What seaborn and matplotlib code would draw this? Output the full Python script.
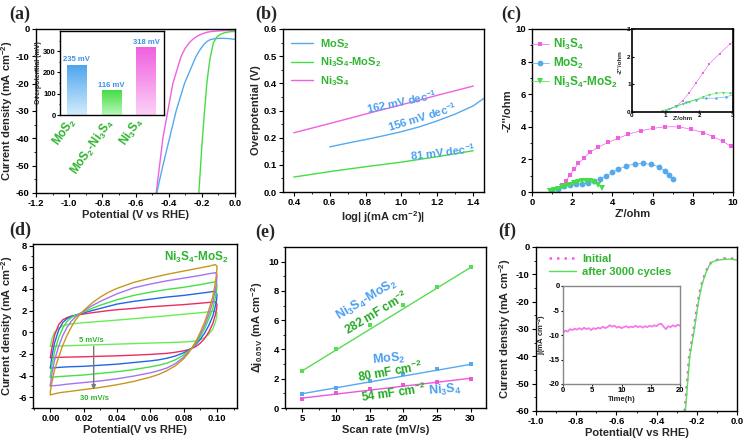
import numpy as np
import matplotlib
matplotlib.use('Agg')
import matplotlib.pyplot as plt
import seaborn as sns
from matplotlib.ticker import MultipleLocator, FormatStrFormatter
from matplotlib.colors import LinearSegmentedColormap

# ---------------- data ----------------
# (a) LSV curves
lsv_ni3s4_x = [-0.475, -0.455, -0.435, -0.405, -0.375, -0.35, -0.325, -0.3, -0.275, -0.255, -0.23, -0.2, -0.17, -0.14, -0.1, -0.05, 0.0]
lsv_ni3s4_y = [-60, -50, -40, -30, -20, -15, -10, -7, -5, -3.8, -2.7, -1.8, -1.2, -0.9, -0.7, -0.55, -0.5]
lsv_mos2_x = [-0.472, -0.435, -0.395, -0.355, -0.305, -0.27, -0.235, -0.21, -0.19, -0.17, -0.15, -0.12, -0.08, -0.04, 0.0]
lsv_mos2_y = [-60, -50, -40, -30, -20, -15, -10, -7.5, -5.8, -4.6, -3.9, -3.5, -3.4, -3.5, -3.8]
lsv_hybrid_x = [-0.218, -0.2, -0.185, -0.17, -0.158, -0.148, -0.13, -0.11, -0.09, -0.07, -0.05, -0.03, 0.0]
lsv_hybrid_y = [-60, -43, -31, -20, -14, -10, -5, -3, -2, -1.5, -1.2, -1.0, -0.9]

bar_names = ['MoS2', 'MoS2-Ni3S4', 'Ni3S4']
bar_values = [235, 116, 318]
bar_text = ['235 mV', '116 mV', '318 mV']

# (b) Tafel
tafel_ni3s4_x = [0.4, 0.6, 0.8, 1.0, 1.2, 1.4]
tafel_ni3s4_y = [0.218, 0.252, 0.287, 0.321, 0.356, 0.39]
tafel_mos2_x = [0.6, 0.7, 0.8, 0.9, 1.0, 1.1, 1.2, 1.3, 1.4, 1.46]
tafel_mos2_y = [0.166, 0.18, 0.193, 0.207, 0.222, 0.24, 0.262, 0.287, 0.317, 0.345]
tafel_hybrid_x = [0.4, 0.6, 0.8, 1.0, 1.2, 1.4]
tafel_hybrid_y = [0.055, 0.075, 0.093, 0.11, 0.13, 0.152]

# (c) Nyquist
eis_ni3s4_x = [1.0, 1.3, 1.5, 1.7, 1.9, 2.1, 2.3, 2.6, 2.9, 3.3, 3.8, 4.3, 4.8, 5.4, 6.0, 6.6, 7.3, 7.9, 8.5, 9.0, 9.5, 9.9]
eis_ni3s4_y = [0.05, 0.2, 0.4, 0.7, 1.05, 1.4, 1.75, 2.1, 2.45, 2.75, 3.05, 3.3, 3.55, 3.75, 3.9, 4.0, 4.0, 3.85, 3.65, 3.4, 3.1, 2.8]
eis_mos2_x = [1.0, 1.3, 1.6, 1.9, 2.2, 2.5, 2.8, 3.1, 3.4, 3.7, 4.0, 4.3, 4.7, 5.1, 5.5, 5.9, 6.3, 6.6, 6.8, 7.0]
eis_mos2_y = [0.05, 0.2, 0.35, 0.45, 0.5, 0.5, 0.55, 0.65, 0.8, 1.0, 1.2, 1.4, 1.6, 1.72, 1.75, 1.7, 1.55, 1.3, 1.05, 0.8]
eis_hybrid_x = [0.9, 1.1, 1.3, 1.5, 1.7, 1.9, 2.1, 2.3, 2.5, 2.7, 2.9, 3.1, 3.3, 3.5]
eis_hybrid_y = [0.05, 0.12, 0.2, 0.28, 0.35, 0.45, 0.55, 0.62, 0.68, 0.7, 0.68, 0.6, 0.45, 0.25]

# (d) CV loops: forward sweep then reverse sweep
cv_x_up = [0.0, 0.001, 0.0025, 0.005, 0.0075, 0.01, 0.0125, 0.015, 0.0175, 0.02, 0.025,
           0.03, 0.035, 0.04, 0.05, 0.06, 0.07, 0.08, 0.09, 0.095, 0.099]
cv_x_down = [0.1, 0.0998, 0.099, 0.0975, 0.095, 0.0925, 0.09, 0.0875, 0.085, 0.0825, 0.08,
             0.075, 0.07, 0.065, 0.06, 0.05, 0.04, 0.03, 0.02, 0.01, 0.005, 0.001, 0.0]
cv_5_up = [-1.3, -0.6, 0.0, 0.4, 0.6, 0.7, 0.76, 0.8, 0.84, 0.88, 0.94, 1.0, 1.06, 1.12,
           1.25, 1.38, 1.52, 1.66, 1.8, 1.88, 1.95]
cv_5_down = [1.8, 1.4, 0.9, 0.3, -0.2, -0.5, -0.7, -0.8, -0.85, -0.88, -0.9, -0.93, -0.96,
             -0.98, -1.0, -1.05, -1.1, -1.15, -1.2, -1.25, -1.27, -1.3, -1.3]
cv_10_up = [-2.35, -1.4, -0.3, 0.7, 1.15, 1.35, 1.48, 1.55, 1.62, 1.68, 1.8, 1.9, 2.0, 2.08,
            2.2, 2.35, 2.45, 2.55, 2.68, 2.75, 2.82]
cv_10_down = [2.6, 2.2, 1.6, 0.8, 0.0, -0.6, -1.0, -1.3, -1.5, -1.62, -1.72, -1.85, -1.95,
              -2.0, -2.05, -2.12, -2.18, -2.22, -2.27, -2.3, -2.32, -2.35, -2.35]
cv_15_up = [-3.3, -2.2, -1.0, 0.2, 0.9, 1.25, 1.45, 1.58, 1.68, 1.78, 2.0, 2.2, 2.4, 2.6,
            2.85, 3.05, 3.25, 3.4, 3.6, 3.7, 3.8]
cv_15_down = [3.5, 3.0, 2.4, 1.5, 0.6, -0.1, -0.65, -1.1, -1.45, -1.7, -1.9, -2.2, -2.4,
              -2.55, -2.65, -2.8, -2.95, -3.05, -3.15, -3.2, -3.25, -3.3, -3.3]
cv_20_up = [-4.1, -3.0, -1.8, -0.5, 0.4, 1.0, 1.35, 1.55, 1.72, 1.88, 2.2, 2.5, 2.75, 3.0,
            3.4, 3.7, 3.95, 4.15, 4.4, 4.55, 4.65]
cv_20_down = [4.4, 3.9, 3.2, 2.2, 1.2, 0.3, -0.4, -1.0, -1.45, -1.8, -2.1, -2.55, -2.85,
              -3.05, -3.2, -3.45, -3.65, -3.8, -3.95, -4.05, -4.1, -4.15, -4.2]
cv_25_up = [-4.9, -3.8, -2.6, -1.3, -0.3, 0.45, 1.0, 1.4, 1.7, 1.95, 2.45, 2.85, 3.2, 3.55,
            4.1, 4.45, 4.75, 5.0, 5.25, 5.4, 5.5]
cv_25_down = [5.3, 4.7, 3.9, 2.8, 1.6, 0.6, -0.2, -0.9, -1.45, -1.9, -2.3, -2.9, -3.3,
              -3.55, -3.75, -4.05, -4.3, -4.5, -4.65, -4.8, -4.9, -4.95, -5.0]
cv_30_up = [-5.5, -4.6, -3.5, -2.3, -1.2, -0.3, 0.45, 1.1, 1.6, 2.0, 2.7, 3.25, 3.7, 4.05,
            4.6, 5.0, 5.35, 5.65, 5.95, 6.1, 6.25]
cv_30_down = [6.1, 5.5, 4.6, 3.3, 2.0, 0.9, 0.0, -0.8, -1.45, -2.0, -2.45, -3.1, -3.55,
              -3.9, -4.15, -4.55, -4.85, -5.1, -5.3, -5.5, -5.6, -5.75, -5.8]

# (e) double-layer capacitance
scan_rate = [5, 10, 15, 20, 25, 30]
dj_hybrid = [2.5, 4.05, 5.7, 7.05, 8.3, 9.65]
dj_mos2 = [0.95, 1.4, 1.85, 2.3, 2.65, 3.0]
dj_ni3s4 = [0.6, 1.0, 1.3, 1.55, 1.8, 2.0]
fit_x = [5, 30]
fit_hybrid = [2.55, 9.6]
fit_mos2 = [0.98, 2.98]
fit_ni3s4 = [0.68, 2.03]

# (f) stability
init_x = [-0.26, -0.238, -0.215, -0.195, -0.178, -0.16, -0.143, -0.127, -0.108, -0.088, -0.065, -0.04, -0.02, 0.0]
init_y = [-60, -40, -30, -20, -14, -10, -7, -5.5, -4.9, -4.5, -4.2, -4.1, -4.3, -4.7]
cyc_x = [-0.257, -0.235, -0.212, -0.192, -0.175, -0.158, -0.14, -0.124, -0.105, -0.085, -0.06, -0.035, 0.0]
cyc_y = [-60, -40, -30, -20, -14, -10, -7, -5.5, -5.0, -4.7, -4.5, -4.4, -4.8]
time_h = [0.0, 0.4, 0.8, 1.2, 1.6, 2.0, 2.4, 2.8, 3.2, 3.6, 4.0, 4.4, 4.8, 5.2, 5.6, 6.0, 6.4,
          6.8, 7.2, 7.6, 8.0, 8.4, 8.8, 9.2, 9.6, 10.0, 10.4, 10.8, 11.2, 11.6, 12.0, 12.4, 12.8,
          13.2, 13.6, 14.0, 14.4, 14.8, 15.2, 15.6, 16.0, 16.4, 16.8, 17.2, 17.6, 18.0, 18.4,
          18.8, 19.2, 19.6, 20.0]
j_time = [-9.6, -9.1, -9.3, -8.8, -9.0, -8.7, -8.9, -8.6, -8.9, -8.5, -8.8, -8.6, -9.0, -8.6,
          -8.8, -8.5, -8.7, -8.3, -8.6, -8.4, -8.0, -8.3, -8.1, -8.5, -8.3, -8.6, -8.4, -8.2,
          -8.5, -8.3, -8.4, -8.1, -8.4, -8.2, -8.5, -8.2, -8.4, -8.1, -8.3, -8.0, -8.2, -7.8,
          -7.7, -8.3, -8.8, -8.2, -8.4, -8.0, -8.3, -7.9, -8.1]

# ---------------- style ----------------
sns.set_style('ticks')
plt.rcParams.update({
    'font.family': ['Liberation Sans', 'DejaVu Sans'],
    'font.weight': 'bold',
    'axes.labelweight': 'bold',
    'axes.unicode_minus': False,
    'mathtext.fontset': 'custom',
    'mathtext.rm': 'Liberation Sans:bold',
    'mathtext.it': 'Liberation Sans:italic:bold',
    'mathtext.bf': 'Liberation Sans:bold',
    'mathtext.default': 'rm',
    'xtick.direction': 'out', 'ytick.direction': 'out',
    'xtick.labelsize': 6.8, 'ytick.labelsize': 6.8,
    'axes.labelsize': 8, 'axes.linewidth': 1.0,
    'axes.edgecolor': 'black',
    'xtick.major.size': 3, 'ytick.major.size': 3,
    'xtick.minor.size': 1.5, 'ytick.minor.size': 1.5,
    'xtick.major.pad': 1.5, 'ytick.major.pad': 1.5,
    'xtick.color': 'black', 'ytick.color': 'black',
})

PINK = '#f060e0'
BLUE = '#55aaee'
GREEN = '#44dd44'
TGREEN = '#2fb52f'
TBLUE = '#4a9ff0'

W, H = 745, 441
fig = plt.figure(figsize=(W / 100, H / 100), dpi=100)


def box(l, t, r, b):
    return [l / W, 1 - b / H, (r - l) / W, (b - t) / H]


def panel_label(x, y, s):
    fig.text(x / W, 1 - y / H, s, fontsize=13, fontweight='bold',
             family='Liberation Serif', ha='center', va='center')


def line(ax, x, y, **kw):
    sns.lineplot(x=x, y=y, ax=ax, sort=False, estimator=None, **kw)


# ---------------- (a) ----------------
ax = fig.add_axes(box(36, 29, 235, 193))
line(ax, lsv_ni3s4_x, lsv_ni3s4_y, color=PINK, lw=1.0)
line(ax, lsv_mos2_x, lsv_mos2_y, color=BLUE, lw=1.0)
line(ax, lsv_hybrid_x, lsv_hybrid_y, color=GREEN, lw=1.0)
ax.set_xlim(-1.2, 0.0)
ax.set_ylim(-60, 0)
ax.xaxis.set_major_locator(MultipleLocator(0.2))
ax.xaxis.set_minor_locator(MultipleLocator(0.1))
ax.yaxis.set_major_locator(MultipleLocator(10))
ax.yaxis.set_minor_locator(MultipleLocator(5))
ax.xaxis.set_major_formatter(FormatStrFormatter('%.1f'))
ax.set_xlabel('Potential (V vs RHE)', labelpad=1.5)
ax.set_ylabel('Current density (mA cm$^{-2}$)', labelpad=1)
for s, xf, yf in zip(['MoS$_2$', 'MoS$_2$-Ni$_3$S$_4$', 'Ni$_3$S$_4$'],
                     [0.146, 0.286, 0.482], [0.372, 0.28, 0.372]):
    ax.text(xf, yf, s, transform=ax.transAxes, rotation=55, color=TGREEN,
            fontsize=8.5, fontweight='bold', ha='center', va='center')

axi = fig.add_axes(box(60, 31, 164, 115))
bar_top = ['#4fa6ee', '#44dd44', '#f060e0']
bar_bot = ['#d3ecfc', '#b8f7b8', '#fcd0f6']
sns.barplot(x=bar_names, y=bar_values, hue=bar_names, palette=bar_top,
            legend=False, width=0.56, ax=axi)
for p, c_top, c_bot, t in zip(axi.patches, bar_top, bar_bot, bar_text):
    x0, w, h = p.get_x(), p.get_width(), p.get_height()
    cmap = LinearSegmentedColormap.from_list('g', [c_bot, c_top])
    im = axi.imshow(np.linspace(0, 1, 64).reshape(-1, 1), extent=[x0, x0 + w, 0, h],
                    origin='lower', cmap=cmap, aspect='auto', zorder=2)
    im.set_clip_path(p)
    p.set_facecolor('none')
    axi.text(x0 + w / 2, h + 8, t, ha='center', va='bottom', color='#3b8fe8',
             fontsize=5.5, fontweight='bold')
axi.set_xlim(-0.49, 2.52)
axi.set_ylim(0, 395)
axi.set_xticks([])
axi.yaxis.set_major_locator(MultipleLocator(100))
axi.yaxis.set_minor_locator(MultipleLocator(50))
axi.tick_params(labelsize=5.5, length=2, pad=1)
axi.tick_params(which='minor', length=1)
axi.set_xlabel('')
axi.set_ylabel('Overpotential (mV)', fontsize=5, labelpad=1)

# ---------------- (b) ----------------
ax = fig.add_axes(box(283, 29, 484, 192))
line(ax, tafel_mos2_x, tafel_mos2_y, color=BLUE, lw=1.0, label='MoS$_2$')
line(ax, tafel_hybrid_x, tafel_hybrid_y, color=GREEN, lw=1.0, label='Ni$_3$S$_4$-MoS$_2$')
line(ax, tafel_ni3s4_x, tafel_ni3s4_y, color=PINK, lw=1.0, label='Ni$_3$S$_4$')
ax.set_xlim(0.34, 1.46)
ax.set_ylim(0, 0.6)
ax.xaxis.set_major_locator(MultipleLocator(0.2))
ax.xaxis.set_minor_locator(MultipleLocator(0.1))
ax.yaxis.set_major_locator(MultipleLocator(0.1))
ax.yaxis.set_minor_locator(MultipleLocator(0.05))
ax.xaxis.set_major_formatter(FormatStrFormatter('%.1f'))
ax.yaxis.set_major_formatter(FormatStrFormatter('%.1f'))
ax.set_xlabel('log| $j$(mA cm$^{-2}$)|', labelpad=1.5)
ax.set_ylabel('Overpotential (V)', labelpad=2)
ax.legend(loc='upper left', bbox_to_anchor=(0.0, 1.0), frameon=False, fontsize=8,
          labelcolor=TGREEN, handlelength=2.0, handletextpad=0.6, labelspacing=0.45,
          borderaxespad=0.3)
for s, xx, yy, r in [('162 mV dec$^{-1}$', 1.0, 0.333, 12),
                     ('156 mV dec$^{-1}$', 1.116, 0.277, 17),
                     ('81 mV dec$^{-1}$', 1.228, 0.148, 7)]:
    ax.text(xx, yy, s, color=TBLUE, fontsize=8, fontweight='bold', rotation=r,
            ha='center', va='center')

# ---------------- (c) ----------------
ax = fig.add_axes(box(532, 29, 733, 192))
line(ax, eis_ni3s4_x, eis_ni3s4_y, color=PINK, lw=0.5, marker='s', markersize=3.5,
     markeredgewidth=0, label='Ni$_3$S$_4$')
line(ax, eis_mos2_x, eis_mos2_y, color=BLUE, lw=0.5, marker='o', markersize=4.2,
     markeredgewidth=0, label='MoS$_2$')
line(ax, eis_hybrid_x, eis_hybrid_y, color=GREEN, lw=0.5, marker='v', markersize=4.5,
     markeredgewidth=0, label='Ni$_3$S$_4$-MoS$_2$')
ax.set_xlim(0, 10)
ax.set_ylim(0, 10)
ax.xaxis.set_major_locator(MultipleLocator(2))
ax.xaxis.set_minor_locator(MultipleLocator(1))
ax.yaxis.set_major_locator(MultipleLocator(2))
ax.yaxis.set_minor_locator(MultipleLocator(1))
ax.set_xlabel("Z'/ohm", labelpad=1.5)
ax.set_ylabel("-Z''/ohm", labelpad=2)
ax.legend(loc='upper left', bbox_to_anchor=(-0.045, 1.0), frameon=False, fontsize=8.5,
          labelcolor=TGREEN, handlelength=1.5, handletextpad=0.35, labelspacing=0.3,
          numpoints=1, borderaxespad=0.3)

axi = fig.add_axes(box(632, 29, 733, 112))
line(axi, eis_ni3s4_x, eis_ni3s4_y, color=PINK, lw=0.4, marker='s', markersize=1.6,
     markeredgewidth=0)
line(axi, eis_mos2_x, eis_mos2_y, color=BLUE, lw=0.4, marker='o', markersize=1.8,
     markeredgewidth=0)
line(axi, eis_hybrid_x, eis_hybrid_y, color=GREEN, lw=0.4, marker='v', markersize=2,
     markeredgewidth=0)
axi.set_xlim(0, 3)
axi.set_ylim(0, 3)
axi.xaxis.set_major_locator(MultipleLocator(1))
axi.yaxis.set_major_locator(MultipleLocator(1))
axi.tick_params(labelsize=4.5, length=1.5, pad=1, direction='in')
for sp in axi.spines.values():
    sp.set_linewidth(1.2)
axi.set_xlabel("Z'/ohm", fontsize=4.5)
axi.set_ylabel("-Z''/ohm", fontsize=4.5)
axi.xaxis.set_label_coords(0.5, -0.05)
axi.yaxis.set_label_coords(-0.09, 0.6)

# ---------------- (d) ----------------
ax = fig.add_axes(box(33, 244, 237, 408))
cv_loops = [(cv_5_up, cv_5_down, '#66ee55'), (cv_10_up, cv_10_down, '#f02a60'),
            (cv_15_up, cv_15_down, '#2266e8'), (cv_20_up, cv_20_down, '#44e044'),
            (cv_25_up, cv_25_down, '#a673f0'), (cv_30_up, cv_30_down, '#c9961e')]
for up, down, c in cv_loops:
    xs = cv_x_up + cv_x_down + [cv_x_up[0]]
    ys = up + down + [up[0]]
    line(ax, xs, ys, color=c, lw=1.0)
ax.set_xlim(-0.0104, 0.112)
ax.set_ylim(-7.0, 8.15)
ax.xaxis.set_major_locator(MultipleLocator(0.02))
ax.xaxis.set_minor_locator(MultipleLocator(0.01))
ax.yaxis.set_major_locator(MultipleLocator(2))
ax.yaxis.set_minor_locator(MultipleLocator(1))
ax.xaxis.set_major_formatter(FormatStrFormatter('%.2f'))
ax.set_xlabel('Potential(V vs RHE)', labelpad=1.5)
ax.set_ylabel('Current density (mA cm$^{-2}$)', labelpad=2)
ax.text(0.0876, 6.9, 'Ni$_3$S$_4$-MoS$_2$', color=TGREEN, fontsize=8.5,
        fontweight='bold', ha='center', va='center')
ax.text(0.0246, -0.74, '5 mV/s', color=TGREEN, fontsize=5.5, fontweight='bold',
        ha='center', va='center')
ax.text(0.0266, -6.16, '30 mV/s', color=TGREEN, fontsize=5.5, fontweight='bold',
        ha='center', va='center')
ax.annotate('', xy=(0.026, -5.55), xytext=(0.026, -1.05),
            arrowprops=dict(arrowstyle='-|>', color='#777777', lw=1.0, mutation_scale=6))

# ---------------- (e) ----------------
ax = fig.add_axes(box(285, 247, 486, 408))
for ys, fy, c in [(dj_hybrid, fit_hybrid, '#55dd55'), (dj_mos2, fit_mos2, BLUE),
                  (dj_ni3s4, fit_ni3s4, '#ee55dd')]:
    line(ax, fit_x, fy, color=c, lw=1.0)
    sns.scatterplot(x=scan_rate, y=ys, ax=ax, color=c, marker='s', s=12, linewidth=0,
                    zorder=3)
ax.set_xlim(2.4, 32.3)
ax.set_ylim(0, 11)
ax.xaxis.set_major_locator(MultipleLocator(5))
ax.xaxis.set_minor_locator(MultipleLocator(2.5))
ax.yaxis.set_major_locator(MultipleLocator(2))
ax.yaxis.set_minor_locator(MultipleLocator(1))
ax.set_xlabel('Scan rate (mV/s)', labelpad=1.5)
ax.set_ylabel('$\\Delta j_{0.05\\,V}$ (mA cm$^{-2}$)', labelpad=2)
for s, xx, yy, r, c, fs in [('Ni$_3$S$_4$-MoS$_2$', 14.6, 7.39, 31, TBLUE, 9),
                            ('282 mF cm$^{-2}$', 16.06, 6.48, 31, '#22aa22', 8.5),
                            ('MoS$_2$', 17.8, 3.36, 5, TBLUE, 9),
                            ('80 mF cm$^{-2}$', 18.05, 2.5, 10, '#22aa22', 8.5),
                            ('54 mF cm$^{-2}$', 18.5, 1.02, 8, '#22aa22', 8.5),
                            ('Ni$_3$S$_4$', 26.2, 1.25, 5, TBLUE, 9)]:
    ax.text(xx, yy, s, color=c, fontsize=fs, fontweight='bold', rotation=r,
            ha='center', va='center')

# ---------------- (f) ----------------
ax = fig.add_axes(box(536, 247, 737, 411))
line(ax, init_x, init_y, color=PINK, lw=1.8, linestyle=(0, (1, 2)), label='Initial')
line(ax, cyc_x, cyc_y, color='#55e055', lw=1.0, label='after 3000 cycles')
ax.set_xlim(-1.0, 0.0)
ax.set_ylim(-60, 0)
ax.xaxis.set_major_locator(MultipleLocator(0.2))
ax.xaxis.set_minor_locator(MultipleLocator(0.1))
ax.yaxis.set_major_locator(MultipleLocator(10))
ax.yaxis.set_minor_locator(MultipleLocator(5))
ax.xaxis.set_major_formatter(FormatStrFormatter('%.1f'))
ax.set_xlabel('Potential(V vs RHE)', labelpad=1.5)
ax.set_ylabel('Current density (mA cm$^{-2}$)', labelpad=2)
ax.legend(loc='upper left', bbox_to_anchor=(0.03, 1.0), frameon=False, fontsize=8,
          labelcolor=TGREEN, handlelength=2.5, handletextpad=0.5, labelspacing=0.3,
          borderaxespad=0.2)

axi = fig.add_axes(box(563, 286, 680, 384))
line(axi, time_h, j_time, color='#f47ae8', lw=1.3)
axi.set_xlim(0, 20)
axi.set_ylim(-20, 0)
axi.xaxis.set_major_locator(MultipleLocator(5))
axi.yaxis.set_major_locator(MultipleLocator(5))
axi.tick_params(labelsize=5.5, length=1.5, pad=1)
for sp in axi.spines.values():
    sp.set_color('#888888')
axi.set_xlabel('Time(h)', fontsize=5.5, labelpad=1)
axi.set_ylabel('$j$(mA cm$^{-2}$)', fontsize=5.5, labelpad=0)

# panel labels
panel_label(20, 14, '(a)')
panel_label(266, 14, '(b)')
panel_label(511, 14, '(c)')
panel_label(20, 230, '(d)')
panel_label(265, 232, '(e)')
panel_label(507, 231, '(f)')

fig.savefig('out.png', dpi=100)
